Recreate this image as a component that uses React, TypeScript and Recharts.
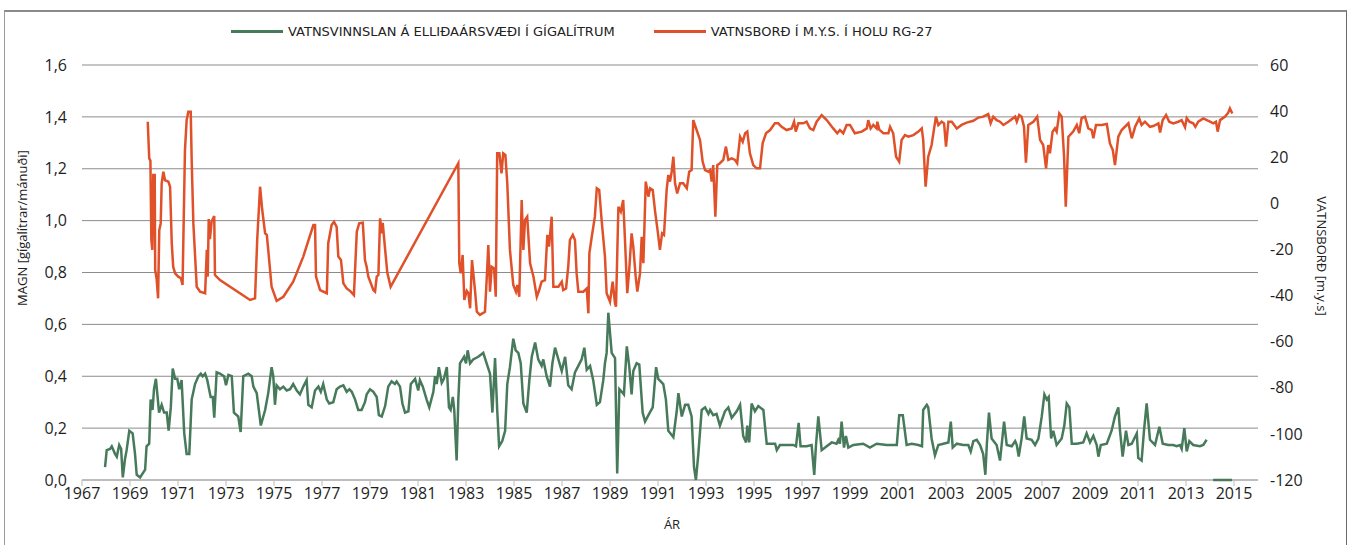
import React from 'react';
import { LineChart, Line, XAxis, YAxis, CartesianGrid } from 'recharts';

// [ár, gígalítrar/mánuði] – vatnsvinnsla á Elliðaársvæði
const vinnslaPoints: [number, number | null][] = [
  [1967.96, 0.05], [1968.03, 0.115], [1968.17, 0.12], [1968.24, 0.13], [1968.38, 0.1], [1968.45, 0.09],
  [1968.55, 0.135], [1968.63, 0.12], [1968.7, 0.01], [1968.79, 0.08], [1968.86, 0.115], [1968.97, 0.19],
  [1969.11, 0.18], [1969.21, 0.1], [1969.28, 0.02], [1969.42, 0.01], [1969.63, 0.04], [1969.69, 0.13],
  [1969.8, 0.14], [1969.86, 0.31], [1969.94, 0.27], [1970.0, 0.35], [1970.08, 0.39], [1970.14, 0.33],
  [1970.21, 0.26], [1970.32, 0.29], [1970.42, 0.26], [1970.53, 0.26], [1970.61, 0.19], [1970.7, 0.28],
  [1970.78, 0.43], [1970.88, 0.39], [1970.97, 0.39], [1971.05, 0.35], [1971.15, 0.385], [1971.26, 0.18],
  [1971.36, 0.1], [1971.47, 0.1], [1971.57, 0.31], [1971.71, 0.37], [1971.85, 0.4], [1971.95, 0.41],
  [1972.03, 0.4], [1972.13, 0.41], [1972.22, 0.385], [1972.36, 0.32], [1972.45, 0.32], [1972.51, 0.24],
  [1972.61, 0.415], [1972.75, 0.41], [1972.92, 0.4], [1973.0, 0.365], [1973.1, 0.405], [1973.24, 0.4],
  [1973.33, 0.26], [1973.51, 0.245], [1973.61, 0.185], [1973.72, 0.4], [1973.93, 0.41], [1974.07, 0.4],
  [1974.14, 0.36], [1974.28, 0.335], [1974.45, 0.21], [1974.63, 0.27], [1974.76, 0.335], [1974.9, 0.435],
  [1974.97, 0.4], [1975.04, 0.29], [1975.11, 0.365], [1975.25, 0.35], [1975.39, 0.36], [1975.53, 0.345],
  [1975.67, 0.35], [1975.8, 0.37], [1975.95, 0.345], [1976.08, 0.33], [1976.22, 0.36], [1976.36, 0.385],
  [1976.43, 0.29], [1976.57, 0.28], [1976.71, 0.345], [1976.85, 0.36], [1976.95, 0.34], [1977.05, 0.37],
  [1977.2, 0.31], [1977.3, 0.295], [1977.47, 0.3], [1977.61, 0.35], [1977.75, 0.36], [1977.89, 0.365],
  [1978.03, 0.34], [1978.14, 0.35], [1978.24, 0.34], [1978.38, 0.31], [1978.51, 0.27], [1978.65, 0.27],
  [1978.79, 0.3], [1978.86, 0.33], [1979.0, 0.35], [1979.14, 0.34], [1979.28, 0.32], [1979.37, 0.25],
  [1979.49, 0.245], [1979.63, 0.285], [1979.76, 0.36], [1979.9, 0.38], [1980.04, 0.37], [1980.11, 0.38],
  [1980.25, 0.36], [1980.35, 0.295], [1980.46, 0.26], [1980.6, 0.265], [1980.7, 0.37], [1980.88, 0.39],
  [1981.01, 0.345], [1981.08, 0.385], [1981.2, 0.36], [1981.36, 0.31], [1981.47, 0.28], [1981.64, 0.34],
  [1981.71, 0.4], [1981.78, 0.37], [1981.87, 0.435], [1981.99, 0.375], [1982.08, 0.39], [1982.2, 0.435],
  [1982.29, 0.28], [1982.36, 0.27], [1982.45, 0.32], [1982.51, 0.27], [1982.61, 0.075], [1982.68, 0.31],
  [1982.75, 0.45], [1982.92, 0.475], [1983.0, 0.45], [1983.07, 0.5], [1983.17, 0.45], [1983.3, 0.465],
  [1983.51, 0.475], [1983.72, 0.49], [1983.86, 0.45], [1984.0, 0.41], [1984.1, 0.26], [1984.21, 0.47],
  [1984.3, 0.27], [1984.38, 0.13], [1984.51, 0.15], [1984.63, 0.19], [1984.72, 0.37], [1984.83, 0.435],
  [1984.97, 0.545], [1985.07, 0.5], [1985.18, 0.49], [1985.28, 0.45], [1985.39, 0.295], [1985.53, 0.26],
  [1985.64, 0.385], [1985.74, 0.475], [1985.88, 0.53], [1986.01, 0.465], [1986.15, 0.44], [1986.22, 0.465],
  [1986.36, 0.4], [1986.5, 0.36], [1986.6, 0.45], [1986.71, 0.51], [1986.85, 0.465], [1986.99, 0.42],
  [1987.13, 0.475], [1987.26, 0.365], [1987.4, 0.35], [1987.54, 0.415], [1987.68, 0.44], [1987.82, 0.465],
  [1987.93, 0.51], [1988.03, 0.425], [1988.17, 0.44], [1988.3, 0.385], [1988.45, 0.29], [1988.58, 0.3],
  [1988.72, 0.385], [1988.79, 0.45], [1988.86, 0.49], [1988.93, 0.645], [1989.07, 0.49], [1989.21, 0.47],
  [1989.3, 0.025], [1989.39, 0.35], [1989.49, 0.34], [1989.58, 0.33], [1989.7, 0.515], [1989.8, 0.44],
  [1989.9, 0.33], [1989.97, 0.42], [1990.11, 0.45], [1990.22, 0.445], [1990.36, 0.26], [1990.46, 0.225],
  [1990.6, 0.25], [1990.78, 0.28], [1990.92, 0.435], [1991.01, 0.39], [1991.22, 0.37], [1991.33, 0.31],
  [1991.43, 0.19], [1991.64, 0.165], [1991.78, 0.265], [1991.85, 0.335], [1991.99, 0.245], [1992.13, 0.29],
  [1992.26, 0.29], [1992.4, 0.245], [1992.5, 0.05], [1992.58, 0.0], [1992.68, 0.1], [1992.82, 0.27],
  [1992.96, 0.28], [1993.1, 0.255], [1993.17, 0.27], [1993.3, 0.25], [1993.44, 0.255], [1993.58, 0.21],
  [1993.79, 0.265], [1993.93, 0.28], [1994.07, 0.24], [1994.28, 0.265], [1994.42, 0.29], [1994.55, 0.17],
  [1994.67, 0.145], [1994.72, 0.21], [1994.8, 0.145], [1994.9, 0.295], [1995.04, 0.265], [1995.18, 0.285],
  [1995.39, 0.27], [1995.53, 0.14], [1995.74, 0.14], [1995.88, 0.14], [1995.95, 0.115], [1996.08, 0.135],
  [1996.36, 0.135], [1996.64, 0.135], [1996.75, 0.13], [1996.86, 0.22], [1996.94, 0.13], [1997.19, 0.13],
  [1997.4, 0.135], [1997.51, 0.02], [1997.58, 0.13], [1997.68, 0.245], [1997.82, 0.115], [1998.03, 0.13],
  [1998.24, 0.145], [1998.44, 0.14], [1998.51, 0.155], [1998.58, 0.14], [1998.65, 0.225], [1998.75, 0.125],
  [1998.83, 0.17], [1998.93, 0.125], [1999.14, 0.135], [1999.55, 0.14], [1999.83, 0.125], [2000.11, 0.14],
  [2000.53, 0.135], [2000.95, 0.135], [2001.05, 0.25], [2001.2, 0.25], [2001.36, 0.135], [2001.57, 0.14],
  [2001.85, 0.135], [2002.0, 0.13], [2002.05, 0.27], [2002.2, 0.29], [2002.26, 0.28], [2002.33, 0.22],
  [2002.4, 0.16], [2002.54, 0.095], [2002.68, 0.135], [2002.89, 0.14], [2003.1, 0.145], [2003.2, 0.225],
  [2003.28, 0.125], [2003.45, 0.14], [2003.72, 0.135], [2003.93, 0.135], [2004.03, 0.11], [2004.14, 0.15],
  [2004.28, 0.155], [2004.42, 0.135], [2004.55, 0.1], [2004.64, 0.02], [2004.7, 0.135], [2004.79, 0.26],
  [2004.9, 0.16], [2005.11, 0.135], [2005.25, 0.075], [2005.42, 0.225], [2005.53, 0.135], [2005.74, 0.13],
  [2005.88, 0.15], [2005.95, 0.135], [2006.03, 0.09], [2006.15, 0.16], [2006.26, 0.245], [2006.36, 0.16],
  [2006.57, 0.155], [2006.71, 0.135], [2006.85, 0.16], [2006.99, 0.245], [2007.1, 0.33], [2007.2, 0.31],
  [2007.28, 0.32], [2007.38, 0.16], [2007.47, 0.19], [2007.61, 0.135], [2007.82, 0.16], [2007.93, 0.21],
  [2008.03, 0.295], [2008.14, 0.28], [2008.24, 0.14], [2008.45, 0.14], [2008.72, 0.145], [2008.86, 0.18],
  [2009.0, 0.145], [2009.14, 0.17], [2009.28, 0.135], [2009.35, 0.09], [2009.45, 0.135], [2009.7, 0.14],
  [2009.9, 0.19], [2010.04, 0.245], [2010.18, 0.28], [2010.25, 0.19], [2010.36, 0.09], [2010.5, 0.19],
  [2010.6, 0.135], [2010.74, 0.14], [2010.95, 0.18], [2011.01, 0.085], [2011.15, 0.075], [2011.25, 0.19],
  [2011.36, 0.295], [2011.5, 0.155], [2011.71, 0.135], [2011.89, 0.205], [2012.03, 0.14], [2012.26, 0.135],
  [2012.47, 0.135], [2012.61, 0.13], [2012.75, 0.135], [2012.82, 0.12], [2012.93, 0.2], [2013.03, 0.11],
  [2013.14, 0.15], [2013.3, 0.135], [2013.58, 0.13], [2013.72, 0.135], [2013.86, 0.155],
  [2014.0, null], [2014.13, 0.0], [2014.92, 0.0],
];

// [ár, m.y.s.] – vatnsborð í holu RG-27
const vatnsbordPoints: [number, number][] = [
  [1969.74, 35.4], [1969.8, 19.5], [1969.85, 18.5], [1969.89, -15.9], [1969.93, -20.2], [1969.97, 12.3],
  [1970.03, 12.3], [1970.05, -28.9], [1970.11, -32.8], [1970.17, -41.2], [1970.22, -11.6], [1970.28, -8.7],
  [1970.32, 8.7], [1970.39, 13.7], [1970.46, 10.0], [1970.6, 9.4], [1970.67, 7.2], [1970.74, -17.3],
  [1970.8, -27.5], [1970.88, -30.4], [1971.01, -31.8], [1971.12, -32.5], [1971.19, -35.4], [1971.29, 23.1],
  [1971.36, 36.1], [1971.43, 39.7], [1971.53, 39.7], [1971.57, 18.8], [1971.64, -8.7], [1971.78, -36.2],
  [1971.92, -38.3], [1972.13, -39.0], [1972.2, -20.2], [1972.24, -31.8], [1972.28, -6.8], [1972.33, -15.5],
  [1972.4, -7.9], [1972.51, -5.5], [1972.54, -31.1], [1972.75, -33.3], [1973.17, -36.2], [1973.58, -39.0],
  [1974.0, -41.9], [1974.21, -41.2], [1974.3, -15.9], [1974.42, 7.2], [1974.51, -2.9], [1974.63, -13.0],
  [1974.7, -13.7], [1974.76, -20.2], [1974.9, -36.2], [1975.11, -42.3], [1975.39, -40.5], [1975.8, -34.0],
  [1976.22, -23.1], [1976.64, -9.4], [1976.71, -9.4], [1976.75, -31.8], [1976.92, -37.6], [1977.2, -39.0],
  [1977.26, -17.3], [1977.4, -9.4], [1977.5, -8.0], [1977.61, -10.2], [1977.68, -23.1], [1977.79, -24.6],
  [1977.89, -34.7], [1978.03, -36.9], [1978.2, -38.3], [1978.33, -39.8], [1978.45, -12.3], [1978.55, -8.7],
  [1978.7, -8.4], [1978.79, -24.6], [1978.86, -27.5], [1978.93, -31.8], [1979.14, -37.6], [1979.21, -38.3],
  [1979.28, -31.8], [1979.35, -31.1], [1979.42, -6.5], [1979.49, -13.0], [1979.53, -8.5], [1979.63, -20.0],
  [1979.72, -30.0], [1979.86, -36.2], [1982.68, 17.4], [1982.72, -26.0], [1982.78, -30.4], [1982.86, -22.4],
  [1982.93, -41.9], [1983.03, -38.0], [1983.1, -39.0], [1983.17, -45.5], [1983.25, -24.6], [1983.38, -38.3],
  [1983.45, -47.0], [1983.58, -48.4], [1983.79, -47.0], [1983.86, -33.3], [1983.93, -18.1], [1984.0, -38.3],
  [1984.07, -27.5], [1984.17, -28.2], [1984.24, -40.5], [1984.3, 21.7], [1984.39, 21.7], [1984.48, 13.0],
  [1984.55, 21.7], [1984.64, 21.0], [1984.72, 8.7], [1984.83, -20.2], [1984.97, -35.4], [1985.08, -38.3],
  [1985.14, -35.4], [1985.22, -40.5], [1985.32, 1.4], [1985.39, -20.2], [1985.46, -7.2], [1985.55, -5.8],
  [1985.67, -26.0], [1985.81, -31.8], [1985.95, -40.5], [1986.05, -37.6], [1986.15, -34.0], [1986.29, -33.3],
  [1986.39, -13.7], [1986.46, -18.8], [1986.57, -5.8], [1986.64, -36.2], [1986.85, -36.2], [1986.99, -34.0],
  [1987.05, -37.6], [1987.17, -36.9], [1987.26, -27.5], [1987.33, -15.9], [1987.45, -13.7], [1987.54, -15.9],
  [1987.61, -30.4], [1987.68, -38.3], [1987.89, -38.3], [1988.03, -36.9], [1988.1, -47.7], [1988.14, -21.7],
  [1988.24, -14.5], [1988.37, -5.8], [1988.45, 6.5], [1988.55, 5.8], [1988.65, -7.2], [1988.79, -23.1],
  [1988.86, -39.0], [1989.0, -42.7], [1989.11, -34.0], [1989.21, -43.4], [1989.25, -44.8], [1989.35, -1.5],
  [1989.45, -3.6], [1989.55, 1.4], [1989.63, -17.3], [1989.72, -39.0], [1989.8, -29.0], [1989.9, -13.0],
  [1989.97, -18.8], [1990.07, -31.8], [1990.14, -38.3], [1990.25, -30.4], [1990.32, -14.5], [1990.39, -26.0],
  [1990.49, 9.4], [1990.6, 2.9], [1990.67, 6.5], [1990.78, 5.8], [1990.88, -3.6], [1990.99, -12.3],
  [1991.08, -20.2], [1991.17, -13.0], [1991.25, -13.7], [1991.36, 5.8], [1991.43, 12.3], [1991.5, 9.4],
  [1991.57, 13.7], [1991.64, 20.2], [1991.71, 8.7], [1991.8, 4.3], [1991.92, 8.7], [1992.05, 8.7],
  [1992.2, 6.5], [1992.3, 13.7], [1992.4, 14.4], [1992.47, 36.1], [1992.61, 31.8], [1992.75, 27.5],
  [1992.86, 18.1], [1992.96, 14.4], [1993.1, 13.7], [1993.17, 14.4], [1993.24, 9.4], [1993.3, 16.6],
  [1993.39, -5.8], [1993.47, 16.6], [1993.58, 17.4], [1993.72, 18.8], [1993.83, 24.6], [1993.93, 18.8],
  [1994.07, 19.5], [1994.21, 18.8], [1994.3, 17.4], [1994.42, 28.9], [1994.53, 26.7], [1994.63, 30.4],
  [1994.72, 31.1], [1994.83, 21.7], [1994.97, 16.6], [1995.11, 15.2], [1995.25, 15.2], [1995.36, 26.0],
  [1995.5, 30.4], [1995.67, 31.8], [1995.87, 34.7], [1996.01, 34.7], [1996.15, 33.2], [1996.36, 31.8],
  [1996.57, 32.5], [1996.67, 35.4], [1996.74, 31.1], [1996.85, 34.7], [1997.05, 34.7], [1997.19, 35.4],
  [1997.33, 32.5], [1997.47, 31.8], [1997.61, 35.4], [1997.82, 38.3], [1998.03, 36.1], [1998.3, 32.5],
  [1998.47, 30.4], [1998.58, 31.8], [1998.72, 30.4], [1998.86, 34.0], [1999.0, 34.0], [1999.2, 30.4],
  [1999.49, 31.1], [1999.7, 32.5], [1999.76, 36.1], [1999.86, 32.5], [1999.97, 34.0], [2000.11, 32.5],
  [2000.14, 35.4], [2000.22, 32.0], [2000.39, 30.4], [2000.6, 30.4], [2000.67, 33.2], [2000.8, 30.4],
  [2000.92, 20.2], [2001.05, 18.1], [2001.15, 27.5], [2001.29, 29.6], [2001.43, 28.9], [2001.64, 29.6],
  [2001.85, 31.1], [2001.99, 32.5], [2002.05, 27.5], [2002.15, 7.2], [2002.26, 20.2], [2002.4, 25.3],
  [2002.58, 37.6], [2002.68, 33.9], [2002.82, 35.4], [2002.92, 34.7], [2003.0, 24.6], [2003.1, 35.4],
  [2003.24, 35.4], [2003.45, 32.5], [2003.65, 34.0], [2003.86, 35.0], [2004.14, 35.8], [2004.35, 37.2],
  [2004.55, 37.6], [2004.76, 38.7], [2004.86, 34.7], [2004.97, 37.6], [2005.11, 36.1], [2005.25, 35.4],
  [2005.39, 34.0], [2005.6, 35.4], [2005.88, 37.6], [2005.95, 35.4], [2006.05, 38.3], [2006.15, 37.6],
  [2006.25, 33.2], [2006.33, 17.6], [2006.43, 34.0], [2006.64, 35.4], [2006.8, 37.6], [2006.92, 27.5],
  [2007.05, 25.3], [2007.17, 15.2], [2007.26, 25.3], [2007.33, 21.7], [2007.44, 31.1], [2007.54, 32.5],
  [2007.61, 31.1], [2007.72, 39.0], [2007.82, 37.6], [2007.92, 20.2], [2007.99, -1.5], [2008.1, 28.9],
  [2008.3, 31.1], [2008.45, 34.0], [2008.55, 30.4], [2008.65, 37.0], [2008.79, 37.6], [2008.93, 32.5],
  [2009.07, 31.8], [2009.14, 28.2], [2009.25, 34.0], [2009.49, 34.0], [2009.7, 34.4], [2009.83, 26.0],
  [2009.95, 23.1], [2010.04, 16.6], [2010.18, 28.9], [2010.32, 31.8], [2010.6, 34.7], [2010.74, 28.2],
  [2010.88, 33.2], [2011.05, 36.8], [2011.15, 34.0], [2011.29, 35.4], [2011.5, 33.2], [2011.64, 33.5],
  [2011.85, 34.7], [2011.92, 30.7], [2012.03, 36.1], [2012.17, 38.3], [2012.3, 35.4], [2012.47, 34.7],
  [2012.68, 35.4], [2012.82, 36.1], [2012.96, 33.0], [2013.03, 37.0], [2013.14, 35.4], [2013.3, 34.7],
  [2013.39, 33.2], [2013.51, 35.4], [2013.72, 36.8], [2014.0, 35.4], [2014.14, 34.7], [2014.25, 35.4],
  [2014.32, 31.1], [2014.42, 36.1], [2014.63, 37.6], [2014.76, 39.3], [2014.83, 41.2], [2014.93, 39.0],
];

const yearTicks = [1967, 1969, 1971, 1973, 1975, 1977, 1979, 1981, 1983, 1985, 1987, 1989, 1991, 1993, 1995,
  1997, 1999, 2001, 2003, 2005, 2007, 2009, 2011, 2013, 2015];
const magnTicks = [0, 0.2, 0.4, 0.6, 0.8, 1.0, 1.2, 1.4, 1.6];
const vatnsbordTicks = [-120, -100, -80, -60, -40, -20, 0, 20, 40, 60];

const GREEN = '#467a5a';
const ORANGE = '#e0512a';
const FONT = '"Open Sans", Roboto, sans-serif';
const LEGEND_FONT = '"DejaVu Sans", "Open Sans", sans-serif';

const vinnslaData = vinnslaPoints.map(([ar, magn]) => ({ ar, magn }));
const vatnsbordData = vatnsbordPoints.map(([ar, vatnsbord]) => ({ ar, vatnsbord }));

const tickStyle = { fill: '#1e1e1e', fontSize: 16, fontFamily: FONT };

const App: React.FC = () => {
  return (
    <div style={{ position: 'absolute', left: 0, top: 0, width: 1352, height: 545, background: '#fff', overflow: 'hidden', fontFamily: FONT }}>
      {/* rammi */}
      <div style={{ position: 'absolute', left: 4, top: 10, width: 1341, height: 545, borderTop: '2px solid #8a8a8a', borderLeft: '1px solid #9a9a9a', borderRight: '1px solid #6a6a6a' }} />

      {/* skýringar */}
      <div style={{ position: 'absolute', left: 231, top: 24, display: 'flex', alignItems: 'center', fontSize: 13, color: '#222', fontFamily: LEGEND_FONT }}>
        <span style={{ display: 'inline-block', width: 52, height: 3, background: GREEN, marginRight: 5 }} />
        <span>VATNSVINNSLAN Á ELLIÐAÁRSVÆÐI Í GÍGALÍTRUM</span>
        <span style={{ display: 'inline-block', width: 52, height: 3, background: ORANGE, marginLeft: 39, marginRight: 5 }} />
        <span>VATNSBORÐ Í M.Y.S. Í HOLU RG-27</span>
      </div>

      <LineChart width={1352} height={545} data={vinnslaData} margin={{ top: 65, right: 34, bottom: 35, left: 0 }}>
        <CartesianGrid vertical={false} stroke="#8c8c8c" yAxisId="magn" />
        <XAxis
          dataKey="ar"
          type="number"
          domain={[1967, 2016]}
          ticks={yearTicks}
          allowDataOverflow
          height={30}
          interval={0}
          stroke="#bdbdbd"
          axisLine={{ stroke: '#bdbdbd', strokeWidth: 2 }}
          tickLine={{ stroke: '#bdbdbd' }}
          tickSize={6}
          tickMargin={2}
          tick={tickStyle}
        />
        <YAxis
          yAxisId="magn"
          orientation="left"
          width={82}
          domain={[0, 1.6]}
          ticks={magnTicks}
          axisLine={false}
          tickLine={false}
          tickSize={0}
          tickMargin={15}
          tick={tickStyle}
          tickFormatter={(v: number) => v.toFixed(1).replace('.', ',')}
        />
        <YAxis
          yAxisId="vb"
          orientation="right"
          width={60}
          domain={[-120, 60]}
          ticks={vatnsbordTicks}
          axisLine={false}
          tickLine={false}
          tickSize={0}
          tickMargin={12}
          tick={tickStyle}
        />
        <Line
          yAxisId="vb"
          data={vatnsbordData}
          dataKey="vatnsbord"
          type="linear"
          stroke={ORANGE}
          strokeWidth={2.5}
          dot={false}
          isAnimationActive={false}
        />
        <Line
          yAxisId="magn"
          data={vinnslaData}
          dataKey="magn"
          type="linear"
          stroke={GREEN}
          strokeWidth={2.5}
          dot={false}
          zIndex={900}
          isAnimationActive={false}
        />
      </LineChart>

      {/* ásaheiti */}
      <div style={{ position: 'absolute', left: 22, top: 228, transform: 'translate(-50%, -50%) rotate(-90deg)', whiteSpace: 'nowrap', fontSize: 13, color: '#222' }}>
        MAGN [gígalítrar/mánuði]
      </div>
      <div style={{ position: 'absolute', left: 1322, top: 256, transform: 'translate(-50%, -50%) rotate(90deg)', whiteSpace: 'nowrap', fontSize: 13, color: '#222' }}>
        VATNSBORÐ [m.y.s]
      </div>
      <div style={{ position: 'absolute', left: 672, top: 524, transform: 'translate(-50%, -50%)', fontSize: 13, color: '#222' }}>
        ÁR
      </div>
    </div>
  );
};

export default App;
